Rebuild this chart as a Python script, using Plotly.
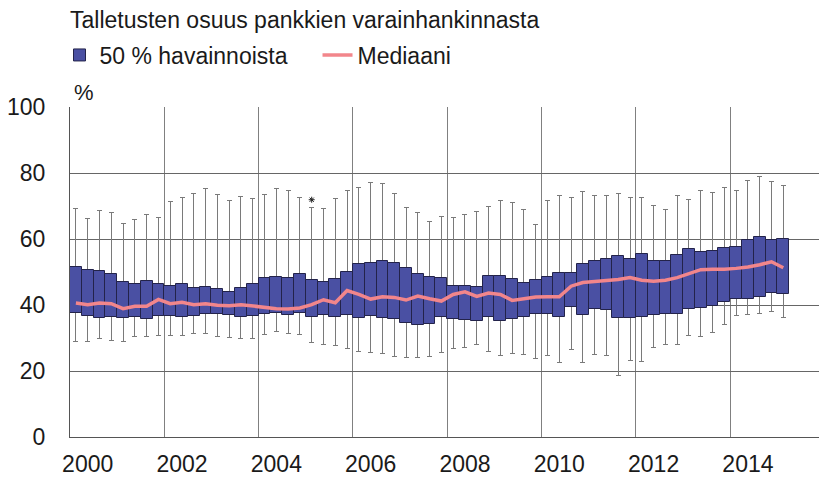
import plotly.graph_objects as go

# Quarterly observations 2000Q1 ... 2015Q1 (61 quarters)
quarter_index = list(range(61))

q_max = [69.2, 66.2, 68.7, 67.9, 64.8, 65.9, 67.4, 66.4, 71.3, 72.5, 73.7, 75.2,
         73.6, 71.6, 73.0, 72.2, 73.4, 75.2, 74.8, 72.5, 69.6, 69.1, 72.4, 74.8,
         75.6, 77.0, 76.8, 73.8, 69.4, 67.9, 65.2, 66.9, 66.5, 67.4, 68.2, 69.7,
         71.6, 71.0, 68.8, 64.5, 71.6, 73.1, 72.6, 74.4, 73.1, 73.3, 73.7, 72.6,
         72.7, 70.1, 68.8, 73.1, 71.9, 74.7, 74.0, 75.6, 74.7, 77.7, 78.9, 77.3, 76.3]
q3 = [51.4, 50.7, 50.4, 49.5, 47.1, 46.5, 47.3, 46.5, 45.7, 46.3, 45.3, 45.4,
      44.8, 43.8, 45.1, 46.5, 48.1, 48.5, 48.3, 49.3, 47.7, 47.1, 47.9, 50.1,
      52.3, 52.6, 53.3, 52.7, 51.1, 49.5, 48.5, 48.3, 45.9, 45.7, 45.5, 48.9,
      48.7, 47.9, 46.8, 47.5, 48.5, 49.7, 49.6, 52.3, 53.3, 54.0, 54.9, 54.0,
      55.4, 53.3, 53.3, 55.2, 56.9, 56.2, 56.3, 57.2, 57.5, 59.6, 60.5, 59.7, 60.1]
median = [40.6, 40.1, 40.6, 40.4, 38.9, 39.6, 39.6, 41.7, 40.4, 40.8, 40.1, 40.4,
          39.9, 39.8, 40.1, 39.7, 39.2, 38.9, 38.8, 39.1, 40.1, 41.6, 40.7, 44.4,
          43.2, 41.8, 42.5, 42.3, 41.5, 42.7, 41.9, 41.2, 43.2, 44.0, 42.6, 43.6,
          43.2, 41.4, 41.9, 42.4, 42.5, 42.5, 45.7, 46.8, 47.1, 47.3, 47.7, 48.3,
          47.5, 47.2, 47.5, 48.3, 49.5, 50.7, 50.8, 50.8, 51.1, 51.5, 52.2, 53.1, 51.3]
q1 = [37.6, 36.6, 36.1, 36.5, 36.0, 36.3, 35.8, 36.7, 36.7, 36.5, 36.8, 37.3,
      37.2, 36.9, 36.4, 36.7, 37.4, 37.6, 36.9, 37.6, 36.5, 37.0, 36.4, 37.1,
      36.2, 36.6, 36.0, 35.7, 34.4, 33.8, 34.2, 36.4, 35.9, 35.6, 35.1, 36.4,
      35.2, 35.7, 36.4, 37.3, 37.4, 36.5, 39.4, 37.0, 38.8, 38.4, 36.2, 36.2,
      36.4, 36.9, 37.2, 37.4, 38.8, 39.2, 39.7, 40.8, 41.8, 41.9, 42.4, 43.5, 43.2]
q_min = [28.9, 28.8, 29.9, 29.3, 28.8, 30.5, 30.4, 30.9, 30.9, 30.7, 31.4, 31.3,
         30.5, 30.3, 29.9, 29.9, 31.2, 32.1, 31.3, 31.1, 28.5, 28.0, 27.6, 26.8,
         26.0, 25.6, 25.2, 24.4, 24.1, 24.1, 24.4, 25.7, 26.7, 27.1, 27.9, 26.0,
         24.6, 25.3, 25.0, 23.9, 24.6, 22.7, 26.5, 22.5, 24.9, 24.8, 18.5, 23.1,
         22.8, 27.0, 27.9, 28.1, 30.8, 30.5, 31.8, 34.1, 36.9, 37.2, 37.4, 38.0, 36.2]

outlier_x = [20]
outlier_y = [71.9]

year_labels = ["2000", "2002", "2004", "2006", "2008", "2010", "2012", "2014"]
year_label_index = [1, 9, 17, 25, 33, 41, 49, 57]

FONT = "Liberation Sans, Arial, sans-serif"
TXT = "#1a1a1a"
FS = 23

fig = go.Figure()

# whiskers (error bars carried by an invisible bar, drawn beneath the boxes)
fig.add_trace(go.Bar(
    x=quarter_index, y=q1, width=1,
    marker=dict(color="rgba(0,0,0,0)", line=dict(width=0)),
    error_y=dict(type="data", symmetric=False,
                 array=[a - b for a, b in zip(q_max, q1)],
                 arrayminus=[b - c for b, c in zip(q1, q_min)],
                 color="#7a7a7a", thickness=1, width=2.5),
    showlegend=False, hoverinfo="skip"))

# interquartile boxes
fig.add_trace(go.Bar(
    x=quarter_index, y=[a - b for a, b in zip(q3, q1)], base=q1, width=1,
    marker=dict(color="#4a50a3", line=dict(color="#23234a", width=1)),
    name="50 % havainnoista"))

# median line
fig.add_trace(go.Scatter(
    x=quarter_index, y=median, mode="lines",
    line=dict(color="#f2868b", width=3.5),
    name="Mediaani"))

# outlier marker
fig.add_trace(go.Scatter(
    x=outlier_x, y=outlier_y, mode="markers",
    marker=dict(symbol="asterisk-open", size=5, color="#222222",
                line=dict(color="#222222", width=1)),
    showlegend=False, hoverinfo="skip"))

fig.update_layout(
    width=819, height=477, autosize=False,
    margin=dict(l=70, r=0, t=107, b=40),
    paper_bgcolor="white", plot_bgcolor="white",
    barmode="overlay", bargap=0,
    font=dict(family=FONT, size=FS, color=TXT),
    title=dict(text="Talletusten osuus pankkien varainhankinnasta",
               x=0, xref="paper", xanchor="left",
               y=1 - 20 / 477, yref="container", yanchor="middle",
               font=dict(family=FONT, size=FS, color=TXT)),
    legend=dict(orientation="h", x=-0.014, xanchor="left",
                y=1 + (107 - 55) / 330, yanchor="middle",
                font=dict(family=FONT, size=FS, color=TXT),
                bgcolor="rgba(0,0,0,0)", itemwidth=30, tracegroupgap=0,
                entrywidth=213, entrywidthmode="pixels"),
    xaxis=dict(range=[-0.5, -0.5 + 749 / 11.79],
               tickmode="array", tickvals=year_label_index, ticktext=year_labels,
               showgrid=False, zeroline=False,
               showline=True, linecolor="#555555", linewidth=1,
               ticks="", ticklabelstandoff=6,
               tickfont=dict(family=FONT, size=FS, color=TXT),
               minor=dict(tickmode="linear", tick0=-0.5, dtick=8,
                          showgrid=True, gridcolor="#808080", gridwidth=1, ticks="")),
    yaxis=dict(range=[0, 100], tickmode="linear", tick0=0, dtick=20,
               showgrid=True, gridcolor="#666666", gridwidth=1, zeroline=False,
               showline=True, linecolor="#555555", linewidth=1,
               ticks="", ticklabelstandoff=19,
               tickfont=dict(family=FONT, size=FS, color=TXT)),
    annotations=[dict(text="%", xref="paper", yref="paper",
                      x=(84 - 70) / 749, y=1 + (107 - 92) / 330,
                      xanchor="center", yanchor="middle", showarrow=False,
                      font=dict(family=FONT, size=FS - 1, color=TXT))],
)

fig.write_html("out.html", config={"displayModeBar": False},
               post_script="document.body.style.margin='0';")
